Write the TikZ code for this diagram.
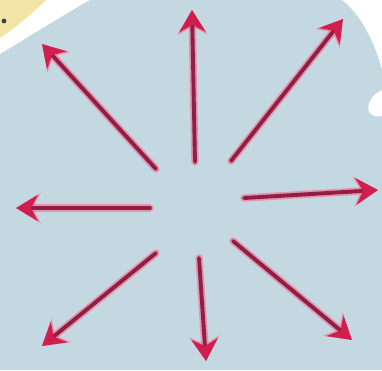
\documentclass[tikz,border=0pt]{standalone}
\usetikzlibrary{arrows.meta}
\definecolor{wolke}{HTML}{C4D8E2}
\definecolor{sand}{HTML}{F2E3A6}
\definecolor{pfeilrot}{HTML}{D01F4E}
\definecolor{pfeilrand}{HTML}{F27C9C}
\definecolor{pfeilkern}{HTML}{8E2045}
\begin{document}
\begin{tikzpicture}[x=.02cm,y=-.02cm,line cap=round,line join=round,
  halo/.style={draw=pfeilrand,line width=4.2pt,opacity=.75,
    -{Stealth[length=14pt,width=17pt,inset=4.5pt]}},
  pfeil/.style={draw=pfeilkern,line width=2.2pt,
    -{Stealth[length=12.5pt,width=15pt,inset=4pt,fill=pfeilrot,color=pfeilrot]}}]
\useasboundingbox (0,0) rectangle (382,370);
% Hintergrund: Ecke oben links und die blaue Wolke.
\fill[white] (0,0) rectangle (382,370);
\fill[sand] (0,0) -- (46,0) .. controls (34,12) and (18,26) .. (0,38) -- cycle;
\fill[black!75] (4,21) circle (2.4);
\fill[wolke] (0,54) .. controls (30,36) and (62,16) .. (90,0)
 -- (342,0) .. controls (360,14) and (374,40) .. (382,70)
 -- (382,90) .. controls (372,94) and (366,104) .. (369,112)
 .. controls (372,117) and (378,117) .. (382,116)
 -- (382,370) -- (0,370) -- cycle;
% Acht Pfeile vom Zentrum nach aussen.
\foreach \n/\sx/\sy/\zx/\zy in {o/195/162/192/10,lo/156/169/42/44,ro/231/161/343/19,
  r/244/198/378/190,l/150/208/16/208,lu/156/253/42/346,u/199/258/206/361,ru/233/241/352/340}{
 \coordinate (s\n) at (\sx,\sy);
 \coordinate (z\n) at (\zx,\zy);
 \draw[halo] (s\n) -- (z\n);
 \draw[pfeil] (s\n) -- (z\n);
}
\end{tikzpicture}
\end{document}
